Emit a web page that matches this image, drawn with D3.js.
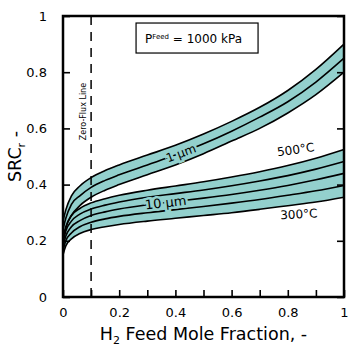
<!DOCTYPE html>
<html>
<head>
<meta charset="utf-8">
<script src="https://cdn.jsdelivr.net/npm/d3@7"></script>
<style>
  body { margin: 0; background: #fff; }
  svg text { font-family: "DejaVu Sans", sans-serif; fill: #000; }
</style>
</head>
<body>
<div id="chart"></div>
<script>
// H2 feed mole fraction
const xFeed = [0, 0.01, 0.03, 0.06, 0.1, 0.15, 0.2, 0.3, 0.4, 0.5, 0.6, 0.7, 0.8, 0.9, 1];

// 1 um membrane band (top edge, middle, bottom edge)
const thin1Top = [0.27, 0.31, 0.36, 0.395, 0.425, 0.45, 0.47, 0.505, 0.54, 0.58, 0.625, 0.675, 0.735, 0.81, 0.9];
const thin1Mid = [0.24, 0.28, 0.33, 0.36, 0.39, 0.415, 0.435, 0.47, 0.505, 0.545, 0.59, 0.64, 0.695, 0.765, 0.85];
const thin1Bot = [0.20, 0.245, 0.29, 0.325, 0.355, 0.38, 0.4, 0.435, 0.47, 0.51, 0.555, 0.6, 0.655, 0.72, 0.80];

// 10 um membrane band, 500C down to 300C
const thick500 = [0.21, 0.25, 0.29, 0.315, 0.335, 0.35, 0.362, 0.38, 0.395, 0.41, 0.427, 0.446, 0.468, 0.494, 0.525];
const thick450 = [0.195, 0.235, 0.27, 0.295, 0.313, 0.327, 0.338, 0.355, 0.368, 0.381, 0.396, 0.413, 0.432, 0.455, 0.482];
const thick400 = [0.18, 0.217, 0.25, 0.272, 0.29, 0.303, 0.313, 0.328, 0.34, 0.352, 0.365, 0.38, 0.397, 0.417, 0.44];
const thick350 = [0.165, 0.2, 0.228, 0.25, 0.266, 0.278, 0.287, 0.3, 0.311, 0.322, 0.334, 0.347, 0.362, 0.378, 0.397];
const thick300 = [0.15, 0.182, 0.207, 0.226, 0.24, 0.25, 0.258, 0.27, 0.28, 0.29, 0.3, 0.312, 0.325, 0.338, 0.355];

const xTickLabels = [0, 0.2, 0.4, 0.6, 0.8, 1];
const yTickLabels = [0, 0.2, 0.4, 0.6, 0.8, 1];
const zeroFluxX = 0.1;

const W = 348, H = 349;
const margin = { top: 16, right: 4, bottom: 52, left: 63 };
const width = W - margin.left - margin.right;
const height = H - margin.top - margin.bottom;
const bandColor = '#93d0cd';

const svg = d3.select('#chart').append('svg')
  .attr('width', W)
  .attr('height', H);

const chart = svg.append('g')
  .attr('transform', `translate(${margin.left}, ${margin.top})`);

const xScale = d3.scaleLinear().domain([0, 1]).range([0, width]);
const yScale = d3.scaleLinear().domain([0, 1]).range([height, 0]);

const line = d3.line()
  .x((d, i) => xScale(xFeed[i]))
  .y(d => yScale(d))
  .curve(d3.curveMonotoneX);

const area = (top, bot) => d3.area()
  .x((d, i) => xScale(xFeed[i]))
  .y0((d, i) => yScale(bot[i]))
  .y1(d => yScale(d))
  .curve(d3.curveMonotoneX)(top);

// bands
chart.append('path').attr('d', area(thin1Top, thin1Bot)).attr('fill', bandColor);
chart.append('path').attr('d', area(thick500, thick300)).attr('fill', bandColor);

// curves
[thin1Top, thin1Mid, thin1Bot, thick500, thick450, thick400, thick350, thick300].forEach(s => {
  chart.append('path')
    .attr('d', line(s))
    .attr('fill', 'none')
    .attr('stroke', '#000')
    .attr('stroke-width', 1.6);
});

// zero flux line
chart.append('line')
  .attr('x1', xScale(zeroFluxX)).attr('x2', xScale(zeroFluxX))
  .attr('y1', yScale(1)).attr('y2', yScale(0))
  .attr('stroke', '#000')
  .attr('stroke-width', 1.5)
  .attr('stroke-dasharray', '9,7');

chart.append('text')
  .attr('transform', `translate(${xScale(zeroFluxX) - 5}, ${yScale(0.66)}) rotate(-90)`)
  .attr('text-anchor', 'middle')
  .style('font-size', '8px')
  .text('Zero-Flux Line');

// curve labels, sitting on the line with a gap
const slopeAngle = (s, i0, i1) => {
  const dx = xScale(xFeed[i1]) - xScale(xFeed[i0]);
  const dy = yScale(s[i1]) - yScale(s[i0]);
  return Math.atan2(dy, dx) * 180 / Math.PI;
};

function curveLabel(txt, xv, yv, angle, size) {
  chart.append('text')
    .attr('transform', `translate(${xScale(xv)}, ${yScale(yv)}) rotate(${angle})`)
    .attr('text-anchor', 'middle')
    .attr('dy', '0.35em')
    .style('font-size', size + 'px')
    .style('paint-order', 'stroke')
    .style('stroke', bandColor)
    .style('stroke-width', '5px')
    .text(txt);
}
curveLabel('1 μm', 0.42, 0.512, slopeAngle(thin1Mid, 7, 9), 12);
curveLabel('10 μm', 0.365, 0.336, slopeAngle(thick400, 7, 9), 13);

chart.append('text')
  .attr('transform', `translate(${xScale(0.83)}, ${yScale(0.51)}) rotate(-8)`)
  .attr('text-anchor', 'middle')
  .style('font-size', '12px')
  .text('500°C');
chart.append('text')
  .attr('transform', `translate(${xScale(0.84)}, ${yScale(0.28)}) rotate(-3)`)
  .attr('text-anchor', 'middle')
  .style('font-size', '12px')
  .text('300°C');

// pressure box
const box = chart.append('g').attr('transform', `translate(${xScale(0.26)}, ${yScale(0.975)})`);
box.append('rect')
  .attr('width', 122).attr('height', 30)
  .attr('fill', '#fff').attr('stroke', '#000').attr('stroke-width', 1.2);
const boxText = box.append('text').attr('x', 9).attr('y', 20).style('font-size', '12px');
boxText.append('tspan').text('P');
boxText.append('tspan').attr('dy', -4).style('font-size', '7px').text('Feed');
boxText.append('tspan').attr('dy', 4).text(' = 1000 kPa');

// axes
const xAxis = chart.append('g')
  .attr('transform', `translate(0, ${height})`)
  .call(d3.axisBottom(xScale).tickValues(d3.range(0, 1.01, 0.1)).tickSize(-7).tickFormat(''));
const xLabels = chart.append('g')
  .attr('transform', `translate(0, ${height})`)
  .call(d3.axisBottom(xScale).tickValues(xTickLabels).tickSize(0).tickPadding(11)
    .tickFormat(d3.format('~g')));
xLabels.select('.domain').remove();

const yAxis = chart.append('g')
  .call(d3.axisLeft(yScale).tickValues(yTickLabels).tickSize(-7).tickPadding(16)
    .tickFormat(d3.format('~g')));
const yAxisR = chart.append('g')
  .attr('transform', `translate(${width}, 0)`)
  .call(d3.axisRight(yScale).tickValues(yTickLabels).tickSize(-7).tickFormat(''));

[xAxis, xLabels, yAxis, yAxisR].forEach(a => {
  a.selectAll('text').style('font-size', '13px').style('font-family', '"DejaVu Sans", sans-serif');
  a.selectAll('line').attr('stroke-width', 1.6);
  a.selectAll('.domain').remove();
});

// frame
chart.append('rect')
  .attr('width', width).attr('height', height)
  .attr('fill', 'none').attr('stroke', '#000').attr('stroke-width', 2.5);

// axis titles
const xTitle = svg.append('text')
  .attr('x', margin.left + width / 2)
  .attr('y', H - 9)
  .attr('text-anchor', 'middle')
  .style('font-size', '17.5px');
xTitle.append('tspan').text('H');
xTitle.append('tspan').attr('dy', 4).style('font-size', '11px').text('2');
xTitle.append('tspan').attr('dy', -4).text(' Feed Mole Fraction, -');

const yTitle = svg.append('text')
  .attr('transform', `translate(21, ${margin.top + height / 2}) rotate(-90)`)
  .attr('text-anchor', 'middle')
  .style('font-size', '17.5px');
yTitle.append('tspan').text('SRC');
yTitle.append('tspan').attr('dy', 4).style('font-size', '11px').text('r');
yTitle.append('tspan').attr('dy', -4).text(' -');
</script>
</body>
</html>
